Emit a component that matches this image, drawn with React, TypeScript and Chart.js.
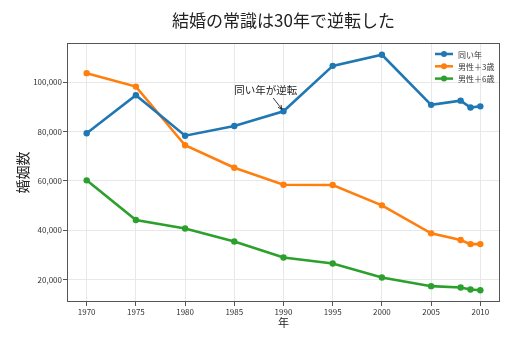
import React, { useEffect, useRef } from "react";
import { Chart, registerables } from "chart.js";

Chart.register(...registerables);

const years = [1970, 1975, 1980, 1985, 1990, 1995, 2000, 2005, 2008, 2009, 2010];
const sameAge = [79300, 94700, 78300, 82250, 88200, 106600, 111100, 90800, 92500, 89700, 90200];
const male3 = [103650, 98200, 74400, 65300, 58400, 58300, 50050, 38700, 36000, 34350, 34350];
const male6 = [60200, 44100, 40700, 35400, 28900, 26500, 20800, 17300, 16750, 15950, 15650];
const seriesNames = ["同い年", "男性＋3歳", "男性＋6歳"];
const seriesColors = ["#1f77b4", "#ff7f0e", "#2ca02c"];
const xTicks = [1970, 1975, 1980, 1985, 1990, 1995, 2000, 2005, 2010];
const yTicks = [20000, 40000, 60000, 80000, 100000];
const titleText = "結婚の常識は30年で逆転した";
const xLabel = "年";
const yLabel = "婚姻数";
const annotationText = "同い年が逆転";
const annotationTextAt = [1985, 95000];
const annotationArrowFrom = [1988.95, 93600];
const annotationArrowTo = [1990, 88200];

const FONT = '"Noto Sans CJK JP", "Noto Sans", sans-serif';

const overlayPlugin = {
  id: "overlay",
  afterDraw(chart: any) {
    const ctx = chart.ctx;
    const a = chart.chartArea;
    const xs = chart.scales.x;
    const ys = chart.scales.y;
    ctx.save();
    // frame
    ctx.strokeStyle = "#555";
    ctx.lineWidth = 1;
    ctx.strokeRect(a.left + 0.5, a.top + 0.5, a.right - a.left - 1, a.bottom - a.top - 1);

    // title
    ctx.fillStyle = "#222";
    ctx.textAlign = "center";
    ctx.textBaseline = "middle";
    ctx.font = `17px ${FONT}`;
    ctx.fillText(titleText, (a.left + a.right) / 2, 21);

    // x label
    ctx.font = `11px ${FONT}`;
    ctx.fillText(xLabel, (a.left + a.right) / 2, 323);

    // y label
    ctx.save();
    ctx.translate(22.5, (a.top + a.bottom) / 2);
    ctx.rotate(-Math.PI / 2);
    ctx.font = `14px ${FONT}`;
    ctx.fillText(yLabel, 0, 0);
    ctx.restore();

    // annotation
    ctx.font = `10.5px ${FONT}`;
    ctx.textAlign = "left";
    ctx.textBaseline = "alphabetic";
    ctx.fillStyle = "#222";
    ctx.fillText(annotationText, xs.getPixelForValue(annotationTextAt[0]), ys.getPixelForValue(annotationTextAt[1]));
    const x0 = xs.getPixelForValue(annotationArrowFrom[0]);
    const y0 = ys.getPixelForValue(annotationArrowFrom[1]);
    const px = xs.getPixelForValue(annotationArrowTo[0]);
    const py = ys.getPixelForValue(annotationArrowTo[1]);
    const ang = Math.atan2(py - y0, px - x0);
    const x1 = px - Math.cos(ang) * 2.5;
    const y1 = py - Math.sin(ang) * 2.5;
    ctx.strokeStyle = "#222";
    ctx.lineWidth = 0.9;
    ctx.beginPath();
    ctx.moveTo(x0, y0);
    ctx.lineTo(x1, y1);
    ctx.stroke();
    const h = 4.5;
    ctx.beginPath();
    ctx.moveTo(x1 - h * Math.cos(ang - 0.45), y1 - h * Math.sin(ang - 0.45));
    ctx.lineTo(x1, y1);
    ctx.lineTo(x1 - h * Math.cos(ang + 0.45), y1 - h * Math.sin(ang + 0.45));
    ctx.stroke();

    // legend
    ctx.font = `8px ${FONT}`;
    ctx.textBaseline = "middle";
    seriesNames.forEach((name, i) => {
      const y = a.top + 11 + i * 12.3;
      const lx = a.right - 65;
      ctx.strokeStyle = seriesColors[i];
      ctx.lineWidth = 2.5;
      ctx.beginPath();
      ctx.moveTo(lx, y);
      ctx.lineTo(lx + 18, y);
      ctx.stroke();
      ctx.fillStyle = seriesColors[i];
      ctx.beginPath();
      ctx.arc(lx + 9, y, 3, 0, Math.PI * 2);
      ctx.fill();
      ctx.fillStyle = "#333";
      ctx.fillText(name, lx + 23, y + 0.5);
    });
    ctx.restore();
  },
};

export default function App() {
  const ref = useRef<HTMLCanvasElement>(null);
  useEffect(() => {
    if (!ref.current) return;
    const mk = (vals: number[], i: number) => ({
      label: seriesNames[i],
      data: years.map((x, k) => ({ x, y: vals[k] })),
      borderColor: seriesColors[i],
      backgroundColor: seriesColors[i],
      borderWidth: 2.6,
      pointRadius: 3.2,
      pointHoverRadius: 3.2,
      pointBorderWidth: 0,
      tension: 0,
    });
    const chart = new Chart(ref.current, {
      type: "line",
      data: { datasets: [mk(sameAge, 0), mk(male3, 1), mk(male6, 2)] },
      options: {
        animation: false,
        responsive: false,
        maintainAspectRatio: false,
        events: [],
        layout: { padding: { left: 0, right: 15, top: 43, bottom: 0 } },
        plugins: { legend: { display: false }, title: { display: false }, tooltip: { enabled: false } },
        scales: {
          x: {
            type: "linear",
            min: 1968,
            max: 2012,
            afterBuildTicks: (s: any) => {
              s.ticks = xTicks.map((v) => ({ value: v }));
            },
            afterFit: (s: any) => {
              s.height = 44;
            },
            ticks: {
              font: { family: FONT, size: 8 },
              color: "#333",
              padding: 1,
              maxRotation: 0,
              autoSkip: false,
              callback: (v: any) => String(v),
            },
            grid: { color: "#e8e8e8", tickColor: "#555", tickLength: 4, lineWidth: 1 },
            border: { display: false },
          },
          y: {
            type: "linear",
            min: 10880,
            max: 115870,
            afterBuildTicks: (s: any) => {
              s.ticks = yTicks.map((v) => ({ value: v }));
            },
            afterFit: (s: any) => {
              s.width = 67;
            },
            ticks: {
              font: { family: FONT, size: 8 },
              color: "#333",
              padding: 1,
              autoSkip: false,
              callback: (v: any) => Number(v).toLocaleString("en-US"),
            },
            grid: { color: "#e8e8e8", tickColor: "#555", tickLength: 4, lineWidth: 1 },
            border: { display: false },
          },
        },
      },
      plugins: [overlayPlugin],
    } as any);
    return () => chart.destroy();
  }, []);
  return (
    <div style={{ position: "absolute", left: 0, top: 0, width: 515, height: 346, background: "#fff" }}>
      <canvas ref={ref} width={515} height={346} style={{ width: 515, height: 346 }} />
    </div>
  );
}
